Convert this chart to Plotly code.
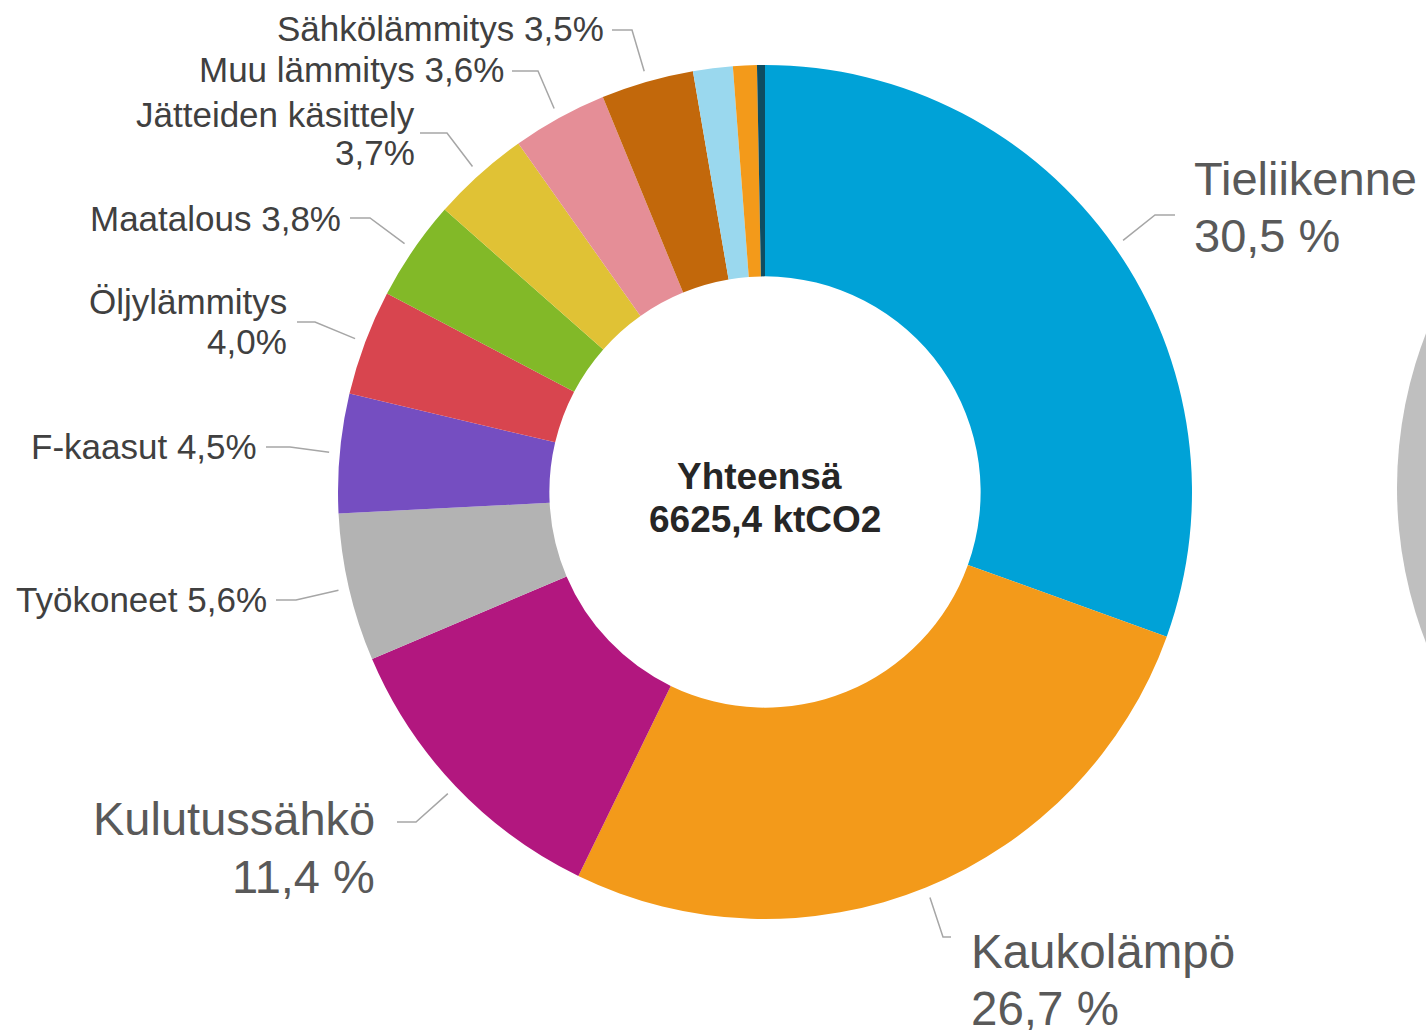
import math
import plotly.graph_objects as go

# ---------------- data ----------------
categories = ["Tieliikenne", "Kaukolämpö", "Kulutussähkö", "Työkoneet", "F-kaasut",
              "Öljylämmitys", "Maatalous", "Jätteiden käsittely", "Muu lämmitys",
              "Sähkölämmitys", "Muu 1", "Muu 2", "Muu 3"]
values = [30.5, 26.7, 11.4, 5.6, 4.5, 4.0, 3.8, 3.7, 3.6, 3.5, 1.5, 0.9, 0.3]
label_texts = {
    "Tieliikenne": ["Tieliikenne", "30,5 %"],
    "Kaukolämpö": ["Kaukolämpö", "26,7 %"],
    "Kulutussähkö": ["Kulutussähkö", "11,4 %"],
    "Työkoneet": ["Työkoneet 5,6%"],
    "F-kaasut": ["F-kaasut 4,5%"],
    "Öljylämmitys": ["Öljylämmitys", "4,0%"],
    "Maatalous": ["Maatalous 3,8%"],
    "Jätteiden käsittely": ["Jätteiden käsittely", "3,7%"],
    "Muu lämmitys": ["Muu lämmitys 3,6%"],
    "Sähkölämmitys": ["Sähkölämmitys 3,5%"],
}
total_text = ["Yhteensä", "6625,4 ktCO2"]

colors = ["#00A2D7", "#F39A1A", "#B2177F", "#B3B3B3", "#754EC1", "#D8454F",
          "#82B928", "#E0C235", "#E58E97", "#C2680B", "#9AD8EE", "#F39A1A", "#0E4D62"]

# ---------------- layout geometry (pixels) ----------------
W, H = 1426, 1030
CX, CY, R = 765, 492, 427


def px(x):
    return x / W


def py(y):
    return 1 - y / H


# label placement: (side, font size, text anchor x, [line y's], elbow, line end)
label_layout = {
    "Tieliikenne": ("left", 47, 1193, [178, 236], (1155, 215), (1175, 215)),
    "Kaukolämpö": ("left", 47.5, 970, [951, 1008], (943, 937), (951, 937)),
    "Kulutussähkö": ("right", 47, 376, [818, 876], (416, 822), (397, 822)),
    "Työkoneet": ("right", 35, 268, [599], (296, 600), (276, 600)),
    "F-kaasut": ("right", 35, 258, [446], (290, 447), (266, 447)),
    "Öljylämmitys": ("right", 35, 288, [302, 341], (315, 322), (297, 322)),
    "Maatalous": ("right", 35, 342, [218], (370, 218), (350, 218)),
    "Jätteiden käsittely": ("right", 35, 416, [114, 152], (447, 133), (420, 133)),
    "Muu lämmitys": ("right", 35, 505, [70], (538, 71), (512, 71)),
    "Sähkölämmitys": ("right", 35, 605, [29], (632, 30), (612, 30)),
}

fig = go.Figure()
fig.add_trace(go.Pie(
    labels=categories,
    values=values,
    sort=False,
    direction="clockwise",
    rotation=0,
    hole=0.505,
    marker=dict(colors=colors, line=dict(width=0)),
    textinfo="none",
    hoverinfo="label+percent",
    showlegend=False,
    domain=dict(x=[px(CX - R), px(CX + R)], y=[py(CY + R), py(CY - R)]),
))

annotations = []
shapes = []

# gray partial circle at right edge (neighbouring chart)
GCX, GCY, GR = 1825, 488, 428
shapes.append(dict(type="circle", xref="paper", yref="paper",
                   x0=px(GCX - GR), x1=px(GCX + GR), y0=py(GCY + GR), y1=py(GCY - GR),
                   fillcolor="#BFBFBF", line=dict(width=0), layer="below"))

tot = sum(values)
cum = 0.0
for cat, v in zip(categories, values):
    mid = (cum + v / 2) / tot
    cum += v
    if cat not in label_layout:
        continue
    side, size, tx, ys, elbow, end = label_layout[cat]
    ang = 2 * math.pi * mid
    sx = CX + math.sin(ang) * R * 1.025
    sy = CY - math.cos(ang) * R * 1.025
    path = "M {},{} L {},{} L {},{}".format(px(sx), py(sy), px(elbow[0]), py(elbow[1]),
                                            px(end[0]), py(end[1]))
    shapes.append(dict(type="path", xref="paper", yref="paper", path=path,
                       line=dict(color="#A6A6A6", width=1.5)))
    color = "#595959" if size > 40 else "#404040"
    for line_txt, ly in zip(label_texts[cat], ys):
        annotations.append(dict(
            x=px(tx), y=py(ly), xref="paper", yref="paper",
            text=line_txt, showarrow=False,
            xanchor=side, yanchor="middle",
            font=dict(family="Liberation Sans, Arial, sans-serif", size=size, color=color),
            borderpad=0,
        ))

for t, lx, ly in zip(total_text, [759, 765], [476, 519]):
    annotations.append(dict(
        x=px(lx), y=py(ly), xref="paper", yref="paper",
        text="<b>" + t + "</b>", showarrow=False,
        xanchor="center", yanchor="middle",
        font=dict(family="Liberation Sans, Arial, sans-serif", size=37, color="#262626"),
        borderpad=0,
    ))

fig.update_layout(
    width=W, height=H,
    margin=dict(l=0, r=0, t=0, b=0),
    paper_bgcolor="white",
    plot_bgcolor="white",
    annotations=annotations,
    shapes=shapes,
)

fig.write_html("out.html")
